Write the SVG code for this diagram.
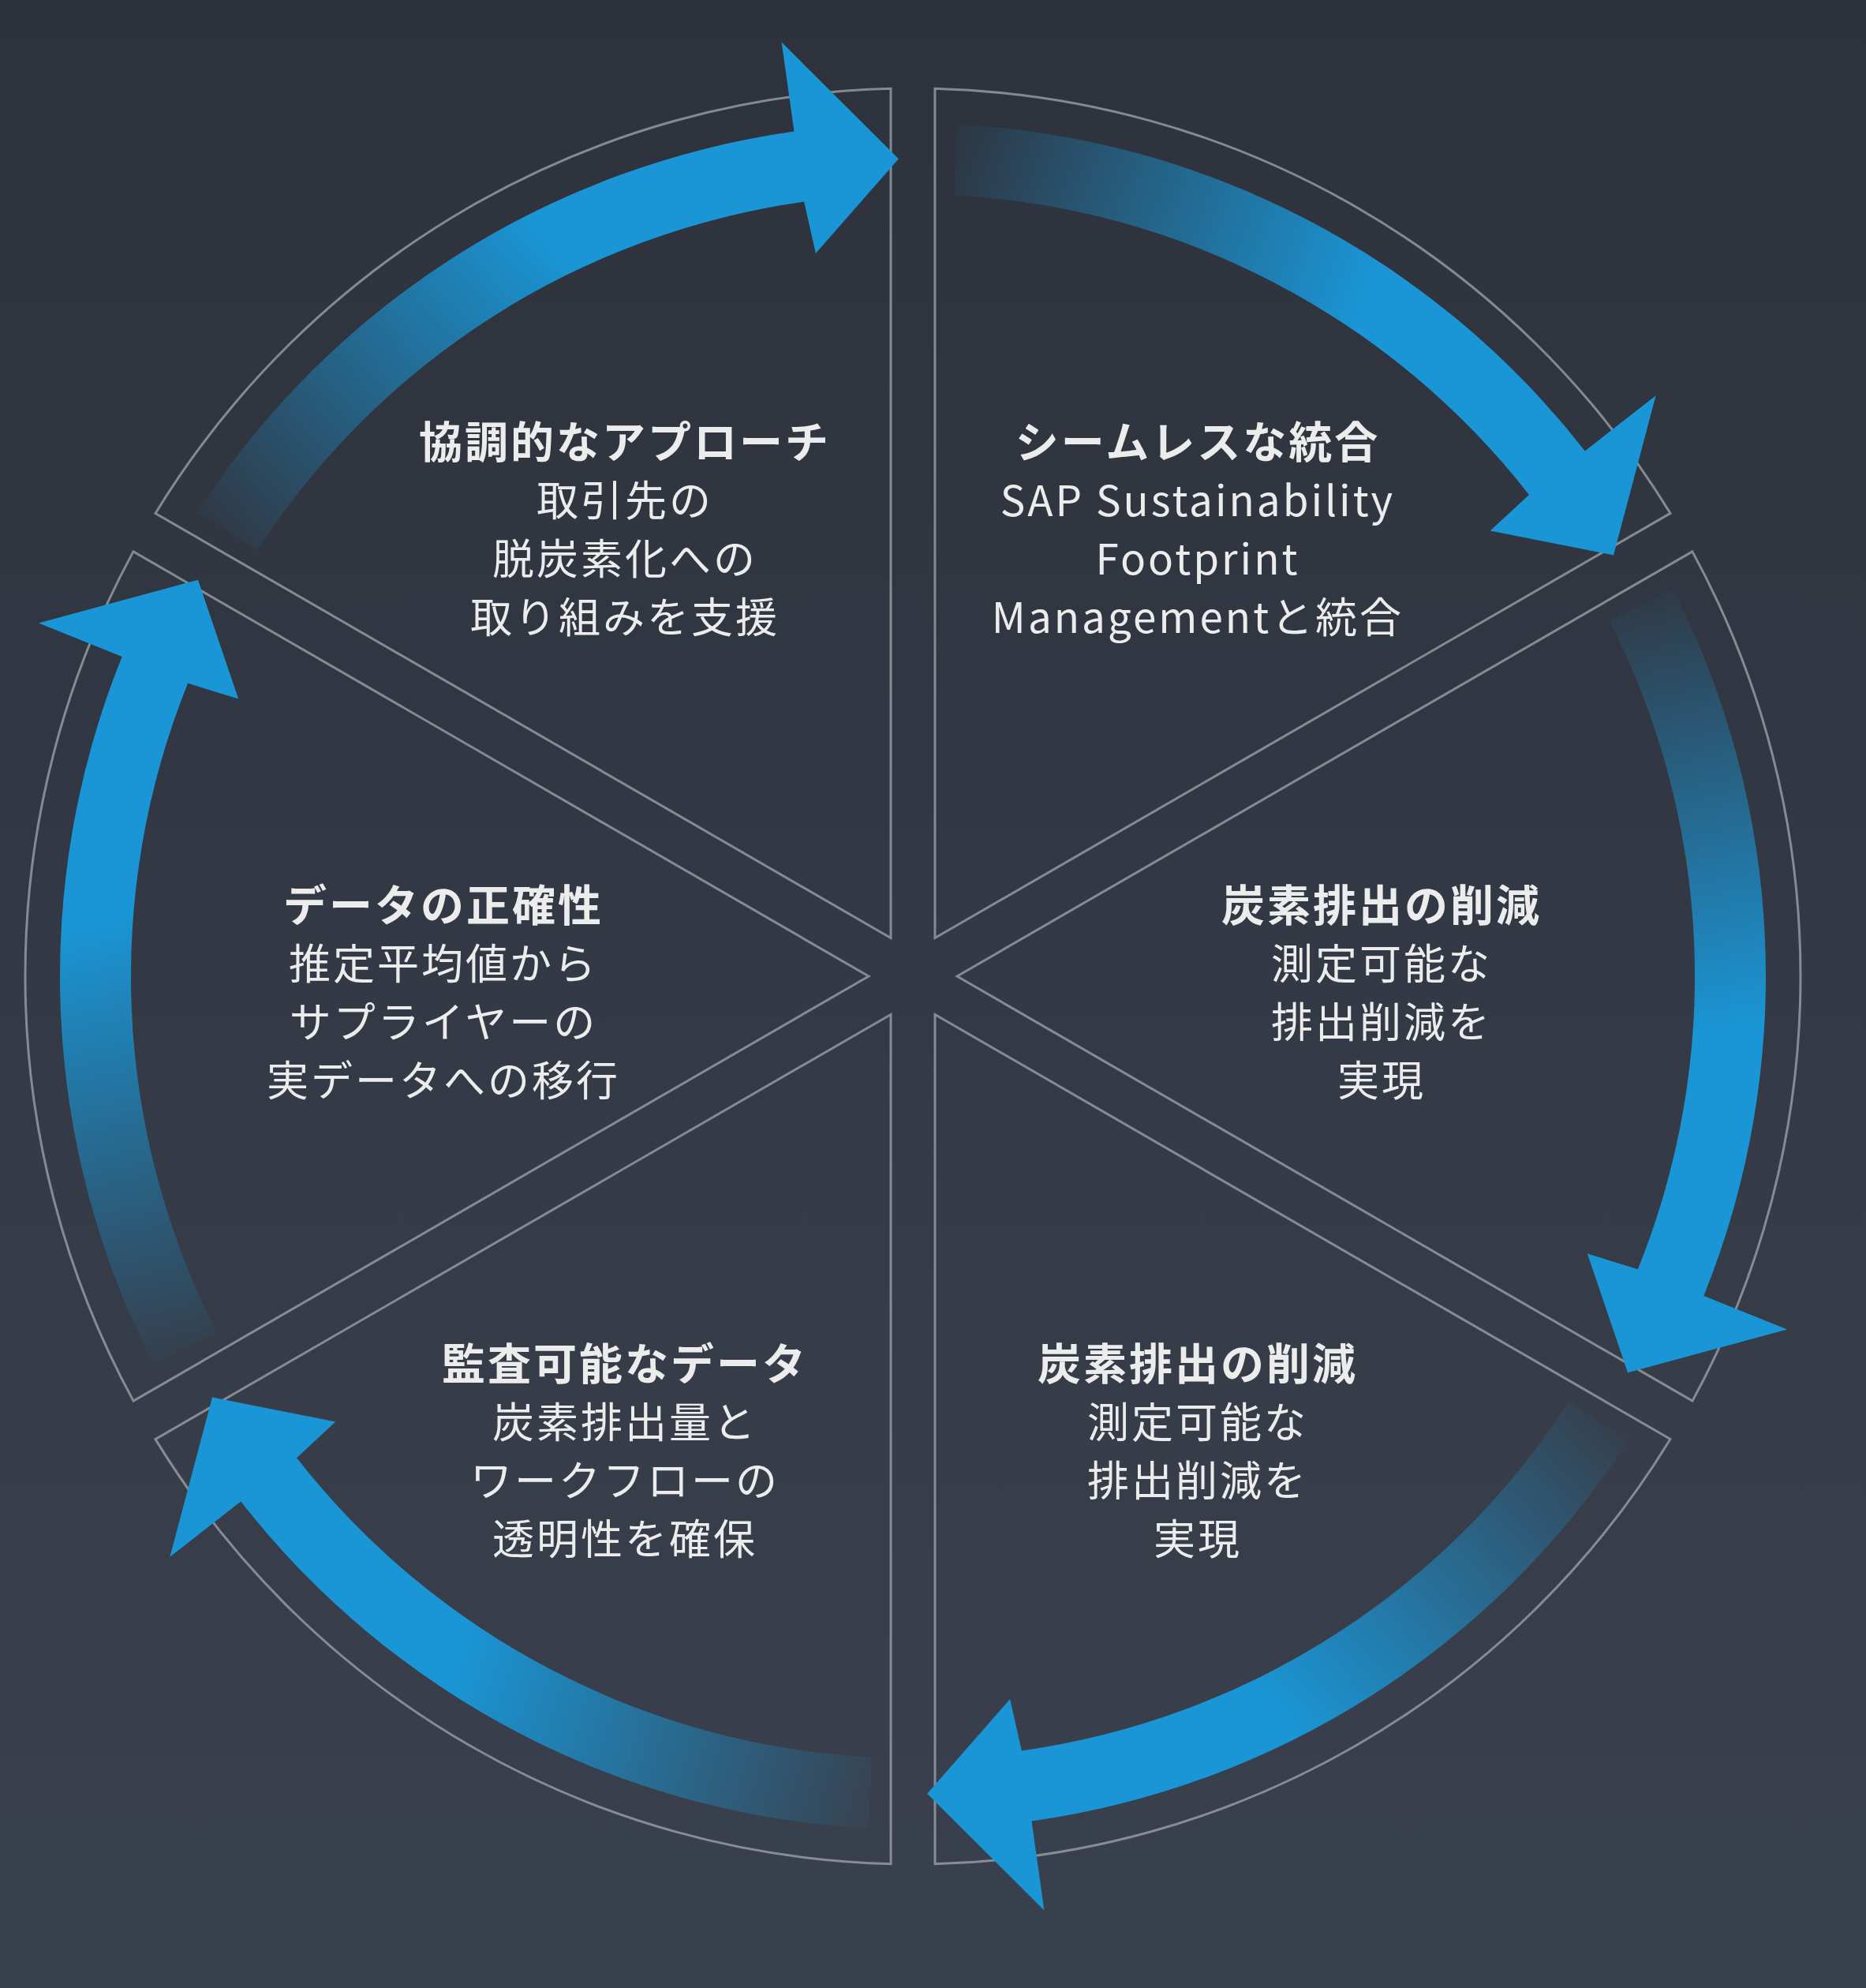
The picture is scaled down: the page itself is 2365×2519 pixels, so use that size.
<svg xmlns="http://www.w3.org/2000/svg" width="2365" height="2519" viewBox="0 0 2365 2519">
<defs>
<linearGradient id="bg" x1="0" y1="0" x2="0" y2="1"><stop offset="0" stop-color="#2d323c"/><stop offset="1" stop-color="#3a414e"/></linearGradient>
<linearGradient id="ag" gradientUnits="userSpaceOnUse" x1="288" y1="673" x2="700" y2="300"><stop offset="0" stop-color="#1a96d6" stop-opacity="0.05"/><stop offset="1" stop-color="#1a96d6"/></linearGradient>
<path id="arrow" d="M250.4 648.3 A1081 1081 0 0 1 1006.5 166.5 L990.6 53.6 L1138.9 201.2 L1033.9 321.0 L1019.1 255.6 A991 991 0 0 0 325.8 697.3 Z" fill="url(#ag)"/>
<path id="sector" d="M1129 1188.5 L197 650.5 A1125 1125 0 0 1 1129 112.3 Z"/>
</defs>
<style>
.sec{fill:none;stroke:#9aa0a8;stroke-width:3;stroke-opacity:0.8}
text{font-family:"Noto Sans CJK JP","Noto Sans",sans-serif;font-size:53px;fill:#ececec;text-anchor:middle;letter-spacing:3px}
.t{font-weight:bold;font-size:55px}
</style>
<rect width="2365" height="2519" fill="url(#bg)"/>
<g id="sectors">
<use href="#sector" class="sec"/>
<use href="#sector" class="sec" transform="rotate(60 1157 1237)"/>
<use href="#sector" class="sec" transform="rotate(120 1157 1237)"/>
<use href="#sector" class="sec" transform="rotate(180 1157 1237)"/>
<use href="#sector" class="sec" transform="rotate(240 1157 1237)"/>
<use href="#sector" class="sec" transform="rotate(300 1157 1237)"/>
</g>
<g id="connectors">
<use href="#arrow"/>
<use href="#arrow" transform="rotate(60 1157 1237)"/>
<use href="#arrow" transform="rotate(120 1157 1237)"/>
<use href="#arrow" transform="rotate(180 1157 1237)"/>
<use href="#arrow" transform="rotate(240 1157 1237)"/>
<use href="#arrow" transform="rotate(300 1157 1237)"/>
</g>
<g id="n1"><text x="792" y="580" class="t">協調的なアプローチ</text><text x="792" y="654">取引先の</text><text x="792" y="728">脱炭素化への</text><text x="792" y="802">取り組みを支援</text></g>
<g id="n2"><text x="1518" y="580" class="t">シームレスな統合</text><text x="1518" y="654">SAP Sustainability</text><text x="1518" y="728">Footprint</text><text x="1518" y="802">Managementと統合</text></g>
<g id="n3"><text x="1751" y="1167" class="t">炭素排出の削減</text><text x="1751" y="1241">測定可能な</text><text x="1751" y="1315">排出削減を</text><text x="1751" y="1389">実現</text></g>
<g id="n4"><text x="1518" y="1748" class="t">炭素排出の削減</text><text x="1518" y="1822">測定可能な</text><text x="1518" y="1896">排出削減を</text><text x="1518" y="1970">実現</text></g>
<g id="n5"><text x="792" y="1748" class="t">監査可能なデータ</text><text x="792" y="1822">炭素排出量と</text><text x="792" y="1896">ワークフローの</text><text x="792" y="1970">透明性を確保</text></g>
<g id="n6"><text x="562" y="1167" class="t">データの正確性</text><text x="562" y="1241">推定平均値から</text><text x="562" y="1315">サプライヤーの</text><text x="562" y="1389">実データへの移行</text></g>
</svg>
